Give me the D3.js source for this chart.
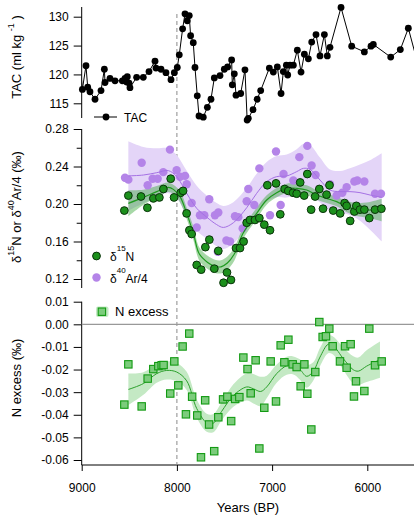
<!DOCTYPE html>
<html>
<head>
<meta charset="utf-8">
<script src="https://cdn.jsdelivr.net/npm/d3@7"></script>
<style>
  body { margin: 0; background: #fff; }
  text { font-family: "Liberation Sans", Arial, sans-serif; fill: #000; }
</style>
</head>
<body>
<svg id="chart" width="418" height="519"></svg>
<script>
// Tick values
const xTicks = [9000, 8000, 7000, 6000];
const tacTicks = [115, 120, 125, 130];
const isoTicks = [0.12, 0.16, 0.20, 0.24, 0.28];
const isoMinorTicks = [0.14, 0.18, 0.22, 0.26];
const nexTicks = [-0.06, -0.05, -0.04, -0.03, -0.02, -0.01, 0.00, 0.01];

// TAC record (first and last points sit just outside the plotted range)
const tacYears = [9012, 8993, 8955, 8937, 8913, 8860, 8797, 8762, 8755, 8703, 8650, 8573, 8545, 8528, 8521, 8503, 8493,
  8423, 8353, 8293, 8230, 8220, 8167, 8115, 8062, 8027, 7996, 7975, 7940, 7915, 7891, 7870, 7856, 7828, 7810, 7786,
  7768, 7723, 7680, 7642, 7607, 7547, 7502, 7467, 7425, 7418, 7397, 7379, 7330, 7285, 7262, 7250, 7200, 7157, 7120,
  7029, 6987, 6945, 6906, 6882, 6850, 6836, 6812, 6777, 6735, 6696, 6661, 6619, 6584, 6539, 6497, 6451, 6420, 6392,
  6276, 6164, 6031, 5961, 5937, 5754, 5653, 5569, 5480];
const tacValues = [121.0, 117.4, 121.5, 117.8, 117.0, 115.7, 117.2, 120.9, 118.6, 119.3, 118.9, 118.9, 119.3, 118.7, 119.6, 118.5, 117.7,
  119.5, 119.5, 120.5, 122.3, 121.1, 120.9, 120.3, 119.1, 120.3, 121.2, 123.4, 127.9, 130.5, 129.3, 130.2, 126.7, 125.5, 121.2, 116.3,
  112.8, 112.6, 114.3, 115.7, 119.4, 119.8, 120.9, 121.3, 122.5, 118.2, 120.1, 116.4, 116.7, 120.8, 112.1, 112.4, 113.9, 115.7, 117.2,
  121.1, 120.4, 121.3, 116.7, 120.5, 121.6, 119.9, 121.6, 121.6, 124.2, 120.4, 123.5, 122.7, 125.6, 126.9, 123.2, 126.9, 123.2, 124.7,
  131.6, 124.9, 123.9, 124.9, 125.2, 123.0, 124.3, 128.0, 122.5];

// d15N
const n15Years = [8552, 8510, 8377, 8310, 8247, 8184, 8142, 8065, 8030, 7960, 7935, 7898, 7869, 7845, 7792, 7745, 7701, 7659,
  7607, 7565, 7510, 7474, 7432, 7379, 7337, 7299, 7267, 7232, 7180, 7134, 7082, 7022, 7050, 6959, 6914, 6868, 6830, 6780,
  6742, 6705, 6663, 6630, 6590, 6548, 6504, 6465, 6428, 6397, 6358, 6285, 6238, 6217, 6180, 6136, 6115, 6077, 6031, 5979,
  5919, 5852];
const n15Values = [0.193, 0.209, 0.208, 0.196, 0.206, 0.207, 0.216, 0.227, 0.207, 0.212, 0.214, 0.190, 0.172, 0.168, 0.135, 0.130, 0.154, 0.162,
  0.131, 0.150, 0.116, 0.127, 0.119, 0.153, 0.153, 0.160, 0.180, 0.183, 0.183, 0.185, 0.178, 0.172, 0.220, 0.222, 0.189, 0.216, 0.214, 0.212,
  0.211, 0.223, 0.209, 0.232, 0.194, 0.208, 0.216, 0.195, 0.210, 0.220, 0.193, 0.190, 0.201, 0.198, 0.182, 0.192, 0.198, 0.194, 0.194, 0.185,
  0.194, 0.195];

// d40Ar/4
const arYears = [8545, 8510, 8370, 8307, 8255, 8202, 8143, 8073, 8003, 7968, 7915, 7897, 7845, 7792, 7758, 7712, 7660, 7600,
  7570, 7565, 7480, 7442, 7390, 7355, 7309, 7267, 7250, 7187, 7134, 7022, 6959, 6910, 6880, 6777, 6714, 6630, 6585, 6543,
  6392, 6322, 6262, 6217, 6136, 6105, 6031, 5919, 5856];
const arValues = [0.228, 0.226, 0.244, 0.220, 0.227, 0.227, 0.234, 0.258, 0.236, 0.229, 0.230, 0.221, 0.201, 0.175, 0.188, 0.188, 0.205, 0.188,
  0.149, 0.191, 0.161, 0.160, 0.187, 0.186, 0.174, 0.203, 0.216, 0.199, 0.238, 0.188, 0.256, 0.199, 0.232, 0.225, 0.250, 0.262, 0.241, 0.231,
  0.221, 0.209, 0.212, 0.218, 0.224, 0.225, 0.224, 0.211, 0.211];

// N excess
const nexYears = [8552, 8510, 8370, 8307, 8248, 8195, 8160, 8140, 8070, 8027, 7985, 7940, 7905, 7870, 7840, 7786, 7747, 7703,
  7662, 7608, 7565, 7515, 7470, 7430, 7388, 7344, 7302, 7258, 7225, 7173, 7134, 7082, 7015, 6959, 6910, 6871, 6829, 6784,
  6742, 6700, 6661, 6630, 6588, 6546, 6504, 6469, 6434, 6399, 6364, 6287, 6234, 6217, 6175, 6140, 6119, 6031, 5979, 5919, 5849];
const nexValues = [-0.0355, -0.0177, -0.0363, -0.0240, -0.0198, -0.0185, -0.0181, -0.0180, -0.0306, -0.0164, -0.0270, -0.0098, -0.0398, -0.0041,
  -0.0320, -0.0403, -0.0588, -0.0336, -0.0443, -0.0561, -0.0411, -0.0332, -0.0320, -0.0428, -0.0330, -0.0322, -0.0147, -0.0198, -0.0305,
  -0.0159, -0.0549, -0.0369, -0.0164, -0.0341, -0.0093, -0.0168, -0.0068, -0.0177, -0.0189, -0.0274, -0.0177, -0.0307, -0.0465, -0.0211,
  0.0010, -0.0056, -0.0053, -0.0019, -0.0097, -0.0164, -0.0097, -0.0192, -0.0088, -0.0319, -0.0252, -0.0295, -0.0019, -0.0181, -0.0164];

// Smoothed fits with their half-width uncertainty bands
const n15FitYears = [8510, 8352, 8212, 8090, 8037, 7967, 7897, 7827, 7764, 7677, 7600, 7537, 7470, 7397, 7309, 7162, 7057, 6952,
  6847, 6742, 6637, 6532, 6427, 6322, 6217, 6112, 6007, 5849];
const n15Fit = [0.2007, 0.2071, 0.2132, 0.2178, 0.2156, 0.2078, 0.1900, 0.1687, 0.1466, 0.1377, 0.1335, 0.1330, 0.1370, 0.1466, 0.1680,
  0.1900, 0.2043, 0.2121, 0.2167, 0.2167, 0.2149, 0.2096, 0.2060, 0.2025, 0.1972, 0.1943, 0.1936, 0.1936];
const n15FitErr = [0.014, 0.008, 0.006, 0.005, 0.005, 0.006, 0.006, 0.007, 0.007, 0.007, 0.007, 0.007, 0.007, 0.007, 0.006,
  0.006, 0.005, 0.005, 0.005, 0.005, 0.005, 0.005, 0.005, 0.005, 0.006, 0.007, 0.008, 0.012];

const arFitYears = [8510, 8352, 8212, 8090, 8002, 7897, 7792, 7687, 7582, 7512, 7407, 7267, 7162, 7057, 6952, 6847, 6742, 6672,
  6602, 6497, 6392, 6287, 6182, 6077, 5972, 5849];
const arFit = [0.2300, 0.2309, 0.2334, 0.2356, 0.2292, 0.2114, 0.1954, 0.1860, 0.1780, 0.1750, 0.1800, 0.1960, 0.2114, 0.2238, 0.2292,
  0.2299, 0.2345, 0.2380, 0.2370, 0.2256, 0.2149, 0.2132, 0.2132, 0.2121, 0.2096, 0.2071];
const arFitErr = [0.037, 0.030, 0.026, 0.024, 0.023, 0.024, 0.024, 0.023, 0.023, 0.023, 0.022, 0.021, 0.021, 0.021, 0.022,
  0.023, 0.024, 0.026, 0.026, 0.024, 0.022, 0.022, 0.025, 0.030, 0.037, 0.047];

const nexFitYears = [8510, 8352, 8212, 8107, 8002, 7897, 7792, 7687, 7617, 7530, 7407, 7267, 7197, 7120, 7057, 6952, 6847, 6777,
  6707, 6637, 6567, 6497, 6410, 6357, 6252, 6147, 6094, 6007, 5867];
const nexFit = [-0.0288, -0.0262, -0.0218, -0.0204, -0.0211, -0.0250, -0.0372, -0.0435, -0.0437, -0.0385, -0.0315, -0.0277, -0.0285,
  -0.0297, -0.0277, -0.0218, -0.0183, -0.0182, -0.0200, -0.0230, -0.0208, -0.0145, -0.0088, -0.0095, -0.0152, -0.0201, -0.0207,
  -0.0185, -0.0156];
const nexFitErr = [0.007, 0.005, 0.004, 0.004, 0.004, 0.004, 0.004, 0.004, 0.004, 0.004, 0.005, 0.006, 0.0065, 0.0065, 0.005,
  0.004, 0.004, 0.004, 0.0045, 0.005, 0.004, 0.004, 0.004, 0.004, 0.005, 0.006, 0.006, 0.007, 0.008];

// Layout
const svg = d3.select("#chart");
const left = 81.7, right = 414;

const x = d3.scaleLinear().domain([9000, 5500]).range([left, right + 0.9]);
const yTac = d3.scaleLinear().domain([115, 130]).range([103.3, 16.7]);
const yIso = d3.scaleLinear().domain([0.12, 0.28]).range([279, 129]);
const yNex = d3.scaleLinear().domain([-0.06, 0.01]).range([460, 301.7]);

const zip = (xs, ys) => xs.map((d, i) => [d, ys[i]]);
const zip3 = (xs, ys, es) => xs.map((d, i) => [d, ys[i], es[i]]);
const curve = d3.curveCatmullRom.alpha(0.5);

svg.append("defs").append("clipPath").attr("id", "plotClip")
  .append("rect").attr("x", left).attr("y", 0).attr("width", right - left).attr("height", 519);

// helper for left axes
function leftAxis(scale, ticks, fmt, y0, y1, minor) {
  const g = svg.append("g").attr("transform", `translate(${left},0)`);
  g.call(d3.axisLeft(scale).tickValues(ticks).tickSize(8).tickPadding(5).tickFormat(fmt));
  g.select(".domain").remove();
  g.selectAll(".tick line").attr("stroke", "#000");
  g.selectAll(".tick text").attr("font-size", 12).attr("font-family", "Liberation Sans, Arial, sans-serif");
  if (minor) {
    const m = svg.append("g").attr("transform", `translate(${left},0)`);
    m.call(d3.axisLeft(scale).tickValues(minor).tickSize(5).tickFormat(""));
    m.select(".domain").remove();
  }
  svg.append("line").attr("x1", left).attr("x2", left).attr("y1", y0).attr("y2", y1)
    .attr("stroke", "#000").attr("stroke-width", 1);
}

leftAxis(yTac, tacTicks, d3.format("d"), 7, 118);
leftAxis(yIso, isoTicks, d => d.toFixed(2), 129, 288, isoMinorTicks);
leftAxis(yNex, nexTicks, d => d.toFixed(2), 301.7, 465);

// x axis
const xg = svg.append("g").attr("transform", "translate(0,465)");
xg.call(d3.axisBottom(x).tickValues(xTicks).tickSize(6).tickPadding(12).tickFormat(d3.format("d")));
xg.select(".domain").remove();
xg.selectAll(".tick text").attr("font-size", 12).attr("font-family", "Liberation Sans, Arial, sans-serif");
svg.append("line").attr("x1", left).attr("x2", right).attr("y1", 465).attr("y2", 465).attr("stroke", "#000");

// reference lines
svg.append("line").attr("x1", x(8000)).attr("x2", x(8000)).attr("y1", 14).attr("y2", 465)
  .attr("stroke", "#8a8a8a").attr("stroke-dasharray", "4,3").attr("stroke-width", 1);
svg.append("line").attr("x1", left).attr("x2", right).attr("y1", yNex(0)).attr("y2", yNex(0))
  .attr("stroke", "#999").attr("stroke-width", 1.2);

// ---------- TAC panel
const tacData = zip(tacYears, tacValues);
svg.append("path").datum(tacData)
  .attr("clip-path", "url(#plotClip)")
  .attr("fill", "none").attr("stroke", "#000").attr("stroke-width", 1)
  .attr("d", d3.line().x(d => x(d[0])).y(d => yTac(d[1])));
svg.append("g").selectAll("circle")
  .data(tacData.filter(d => d[0] <= 9000 && d[0] >= 5500))
  .join("circle")
  .attr("cx", d => x(d[0])).attr("cy", d => yTac(d[1])).attr("r", 3.4).attr("fill", "#000");

// ---------- isotope panel
const bandArea = scale => d3.area().curve(curve)
  .x(d => x(d[0])).y0(d => scale(d[1] - d[2])).y1(d => scale(d[1] + d[2]));
const fitLine = scale => d3.line().curve(curve).x(d => x(d[0])).y(d => scale(d[1]));

const arFitData = zip3(arFitYears, arFit, arFitErr);
const n15FitData = zip3(n15FitYears, n15Fit, n15FitErr);

svg.append("path").datum(arFitData).attr("fill", "#e4d5f8").attr("d", bandArea(yIso));
svg.append("path").datum(n15FitData).attr("fill", "#3ca83c").attr("fill-opacity", 0.45).attr("d", bandArea(yIso));

svg.append("g").selectAll("circle").data(zip(arYears, arValues)).join("circle")
  .attr("cx", d => x(d[0])).attr("cy", d => yIso(d[1])).attr("r", 4.2)
  .attr("fill", "#b484e8");

svg.append("path").datum(arFitData).attr("fill", "none").attr("stroke", "#a571e4").attr("stroke-width", 1)
  .attr("d", fitLine(yIso));
svg.append("path").datum(n15FitData).attr("fill", "none").attr("stroke", "#1f9a1f").attr("stroke-width", 1.2)
  .attr("d", fitLine(yIso));

svg.append("g").selectAll("circle").data(zip(n15Years, n15Values)).join("circle")
  .attr("cx", d => x(d[0])).attr("cy", d => yIso(d[1])).attr("r", 3.9)
  .attr("fill", "#1c901c").attr("stroke", "#0b330b").attr("stroke-width", 1);

// ---------- N excess panel
const nexFitData = zip3(nexFitYears, nexFit, nexFitErr);
svg.append("path").datum(nexFitData).attr("fill", "#c4e9c4").attr("d", bandArea(yNex));
svg.append("path").datum(nexFitData).attr("fill", "none").attr("stroke", "#2ca02c").attr("stroke-width", 1)
  .attr("d", fitLine(yNex));
const sq = 7.4;
svg.append("g").selectAll("rect").data(zip(nexYears, nexValues)).join("rect")
  .attr("x", d => x(d[0]) - sq / 2).attr("y", d => yNex(d[1]) - sq / 2)
  .attr("width", sq).attr("height", sq)
  .attr("fill", "#7ccc7c").attr("stroke", "#129a12").attr("stroke-width", 1.1);

// ---------- legends
svg.append("line").attr("x1", 94).attr("x2", 117).attr("y1", 117).attr("y2", 117).attr("stroke", "#000");
svg.append("circle").attr("cx", 106).attr("cy", 117).attr("r", 3.4).attr("fill", "#000");
svg.append("text").attr("x", 124).attr("y", 121.5).attr("font-size", 12).text("TAC");

svg.append("circle").attr("cx", 96.5).attr("cy", 256).attr("r", 3.9)
  .attr("fill", "#1c901c").attr("stroke", "#0b330b");
const l1 = svg.append("text").attr("x", 110).attr("y", 260.7).attr("font-size", 12);
l1.append("tspan").text("δ");
l1.append("tspan").attr("font-size", 8).attr("dy", -10).text("15");
l1.append("tspan").attr("dy", 10).text("N");

svg.append("circle").attr("cx", 96.5).attr("cy", 277.5).attr("r", 4.2).attr("fill", "#b484e8");
const l2 = svg.append("text").attr("x", 110).attr("y", 283).attr("font-size", 12);
l2.append("tspan").text("δ");
l2.append("tspan").attr("font-size", 8).attr("dy", -10).text("40");
l2.append("tspan").attr("dy", 10).text("Ar/4");

svg.append("rect").attr("x", 96).attr("y", 306.5).attr("width", 12.5).attr("height", 10.5).attr("rx", 2)
  .attr("fill", "#c4e9c4");
svg.append("rect").attr("x", 101.9 - sq / 2).attr("y", 311.7 - sq / 2).attr("width", sq).attr("height", sq)
  .attr("fill", "#7ccc7c").attr("stroke", "#129a12").attr("stroke-width", 1.1);
svg.append("text").attr("x", 115).attr("y", 316.3).attr("font-size", 13).text("N excess");

// ---------- axis titles
const t1 = svg.append("text").attr("transform", "translate(21,57) rotate(-90)")
  .attr("text-anchor", "middle").attr("font-size", 13);
t1.append("tspan").text("TAC (ml kg ");
t1.append("tspan").attr("font-size", 9).attr("dy", -7).text("-1");
t1.append("tspan").attr("dy", 7).text(" )");

const t2 = svg.append("text").attr("transform", "translate(21,207) rotate(-90)")
  .attr("text-anchor", "middle").attr("font-size", 13);
t2.append("tspan").text("δ");
t2.append("tspan").attr("font-size", 9).attr("dy", -7).text("15");
t2.append("tspan").attr("dy", 7).text("N or δ");
t2.append("tspan").attr("font-size", 9).attr("dy", -7).text("40");
t2.append("tspan").attr("dy", 7).text("Ar/4 (‰)");

svg.append("text").attr("transform", "translate(21,378) rotate(-90)")
  .attr("text-anchor", "middle").attr("font-size", 13).text("N excess (‰)");

svg.append("text").attr("x", 248).attr("y", 511.5).attr("text-anchor", "middle")
  .attr("font-size", 13).text("Years (BP)");
</script>
</body>
</html>
